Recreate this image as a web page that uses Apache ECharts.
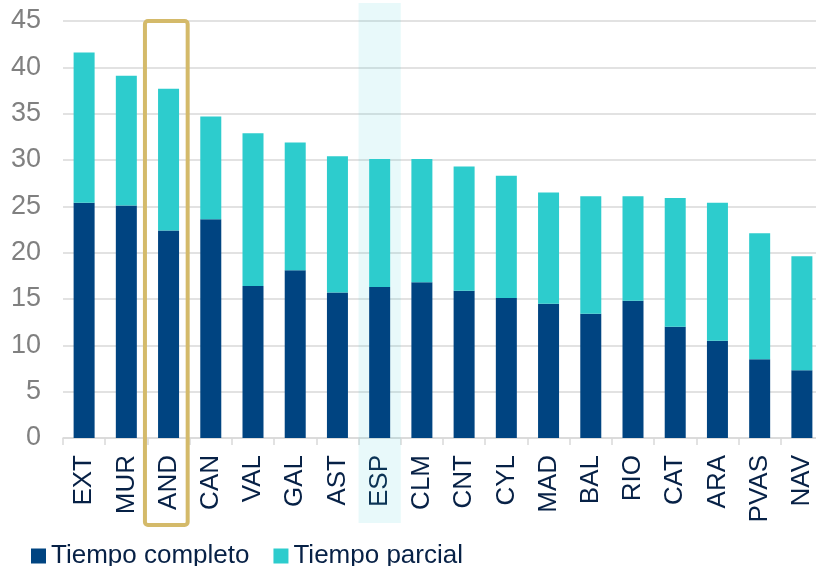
<!DOCTYPE html>
<html>
<head>
<meta charset="utf-8">
<script src="https://cdn.jsdelivr.net/npm/echarts@6/dist/echarts.min.js"></script>
<style>
html, body { margin: 0; padding: 0; background: #fff; }
#main { width: 816px; height: 566px; }
</style>
</head>
<body>
<div id="main"></div>
<script>
// datos
var regiones = ['EXT','MUR','AND','CAN','VAL','GAL','AST','ESP','CLM','CNT','CYL','MAD','BAL','RIO','CAT','ARA','PVAS','NAV'];
var completo = [25.4, 25.1, 22.4, 23.6, 16.4, 18.1, 15.7, 16.3, 16.8, 15.9, 15.1, 14.5, 13.4, 14.8, 12.0, 10.5, 8.5, 7.3];
var parcial  = [16.2, 14.0, 15.3, 11.1, 16.5, 13.8, 14.7, 13.8, 13.3, 13.4, 13.2, 12.0, 12.7, 11.3, 13.9, 14.9, 13.6, 12.3];
var yTicks = [0, 5, 10, 15, 20, 25, 30, 35, 40, 45];

var resaltado = 'ESP';   // fondo claro
var recuadro = 'AND';    // marco dorado

var dom = document.getElementById('main');
var myChart = echarts.init(dom);

var option = {
    animation: false,
    textStyle: { fontFamily: 'Liberation Sans, Arial, sans-serif' },
    grid: { left: 63, width: 760, top: 21, height: 417, outerBoundsMode: 'none', containLabel: false },
    legend: {
        left: 26,
        top: 538,
        icon: 'rect',
        itemWidth: 15,
        itemHeight: 15,
        itemGap: 24,
        textStyle: { fontSize: 26, color: '#072146' },
        data: ['Tiempo completo', 'Tiempo parcial']
    },
    xAxis: {
        type: 'category',
        data: regiones,
        axisLine: { lineStyle: { color: '#d9d9d9', width: 1.5 } },
        axisTick: { show: true, length: 7, lineStyle: { color: '#d9d9d9', width: 1.5 } },
        axisLabel: {
            rotate: 90,
            margin: 17,
            fontSize: 26,
            color: '#072146'
        }
    },
    yAxis: {
        type: 'value',
        min: yTicks[0],
        max: yTicks[yTicks.length - 1],
        interval: 5,
        axisLine: { show: false },
        axisTick: { show: false },
        axisLabel: { fontSize: 27, color: '#808080', margin: 22 },
        splitLine: { lineStyle: { color: '#d9d9d9', width: 1.5 } }
    },
    series: [
        {
            name: 'Tiempo completo',
            type: 'bar',
            stack: 'total',
            barWidth: 21,
            itemStyle: { color: '#004481' },
            data: completo,
            z: 3
        },
        {
            name: 'Tiempo parcial',
            type: 'bar',
            stack: 'total',
            barWidth: 21,
            itemStyle: { color: '#2dcccd' },
            data: parcial,
            z: 3
        }
    ]
};
myChart.setOption(option, true);

// resaltados a partir de las escalas
var band = myChart.convertToPixel({ xAxisIndex: 0 }, regiones[1]) - myChart.convertToPixel({ xAxisIndex: 0 }, regiones[0]);
var yTop = myChart.convertToPixel({ yAxisIndex: 0 }, 45);
var yZero = myChart.convertToPixel({ yAxisIndex: 0 }, 0);
var xEsp = myChart.convertToPixel({ xAxisIndex: 0 }, resaltado);
var xAnd = myChart.convertToPixel({ xAxisIndex: 0 }, recuadro);

myChart.setOption({
    graphic: [
        {
            type: 'rect',
            z: 1,
            silent: true,
            shape: { x: xEsp - band / 2, y: yTop - 18, width: band, height: (yZero + 85) - (yTop - 18) },
            style: { fill: 'rgba(45, 204, 205, 0.11)' }
        },
        {
            type: 'rect',
            z: 10,
            silent: true,
            shape: { x: xAnd - band / 2 - 2.5, y: yTop, width: band + 0.5, height: (yZero + 87) - yTop, r: 3 },
            style: { fill: 'none', stroke: '#d4ba6a', lineWidth: 4 }
        }
    ]
});
</script>
</body>
</html>
